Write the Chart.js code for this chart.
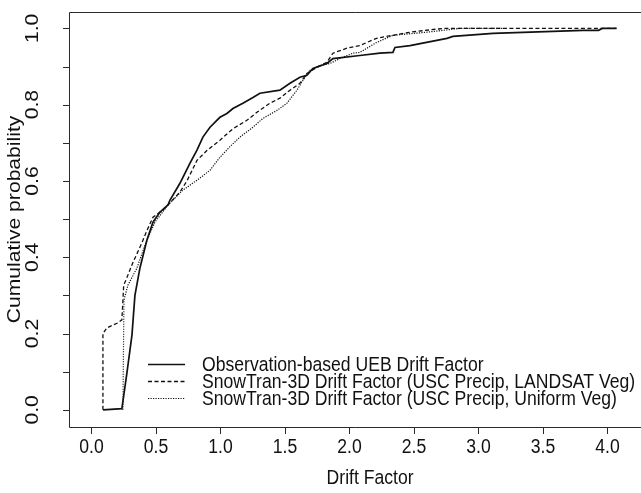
<!DOCTYPE html>
<html>
<head>
<meta charset="utf-8">
<script src="https://cdn.jsdelivr.net/npm/chart.js@4/dist/chart.umd.min.js"></script>
<style>
  html, body { margin: 0; padding: 0; background: #ffffff; }
  #wrap { width: 641px; height: 493px; }
</style>
</head>
<body>
<div id="wrap"><canvas id="c" width="641" height="493"></canvas></div>
<script>
// ---- data ----
const obsX = [0.09, 0.236, 0.275, 0.314, 0.337, 0.376, 0.43, 0.477, 0.53, 0.593, 0.609, 0.686, 0.764, 0.818, 0.864, 0.919, 0.996, 1.05, 1.097, 1.174, 1.252, 1.306, 1.461, 1.539, 1.616, 1.67, 1.717, 1.825, 1.872, 2.08, 2.236, 2.337, 2.353, 2.469, 2.756, 2.802, 3.112, 3.81, 3.93, 3.96, 4.07];
const obsY = [0, 0.003, 0.097, 0.196, 0.30, 0.372, 0.445, 0.492, 0.518, 0.537, 0.55, 0.594, 0.647, 0.681, 0.715, 0.741, 0.767, 0.777, 0.79, 0.804, 0.819, 0.83, 0.838, 0.856, 0.872, 0.877, 0.895, 0.908, 0.921, 0.929, 0.935, 0.937, 0.95, 0.955, 0.974, 0.979, 0.987, 0.995, 0.995, 1.0, 1.0];

const landsatX = [0.089, 0.089, 0.12, 0.205, 0.236, 0.25, 0.267, 0.32, 0.39, 0.43, 0.477, 0.554, 0.593, 0.686, 0.74, 0.818, 0.895, 0.996, 1.097, 1.205, 1.283, 1.384, 1.461, 1.539, 1.616, 1.67, 1.748, 1.825, 1.872, 1.98, 2.08, 2.21, 2.337, 2.469, 2.725, 4.07];
const landsatY = [0, 0.20, 0.215, 0.228, 0.236, 0.327, 0.34, 0.385, 0.437, 0.47, 0.505, 0.524, 0.537, 0.571, 0.60, 0.654, 0.68, 0.707, 0.737, 0.759, 0.78, 0.804, 0.817, 0.838, 0.856, 0.882, 0.898, 0.911, 0.935, 0.948, 0.955, 0.974, 0.982, 0.99, 1.0, 1.0];

const uniformX = [0.244, 0.252, 0.283, 0.353, 0.415, 0.492, 0.593, 0.709, 0.818, 0.919, 0.996, 1.074, 1.151, 1.252, 1.329, 1.438, 1.516, 1.593, 1.64, 1.694, 1.771, 1.849, 1.926, 2.027, 2.08, 2.21, 2.337, 2.6, 2.856, 3.19];
const uniformY = [0, 0.288, 0.327, 0.372, 0.432, 0.492, 0.537, 0.576, 0.602, 0.628, 0.662, 0.69, 0.715, 0.741, 0.764, 0.785, 0.804, 0.838, 0.864, 0.89, 0.903, 0.908, 0.921, 0.935, 0.937, 0.963, 0.982, 0.99, 1.0, 1.0];

const seriesNames = [
  "Observation-based UEB Drift Factor",
  "SnowTran-3D Drift Factor (USC Precip, LANDSAT Veg)",
  "SnowTran-3D Drift Factor (USC Precip, Uniform Veg)"
];
const xTickValues = [0.0, 0.5, 1.0, 1.5, 2.0, 2.5, 3.0, 3.5, 4.0];
const xTickLabels = ["0.0", "0.5", "1.0", "1.5", "2.0", "2.5", "3.0", "3.5", "4.0"];
const yTickValues = [0.0, 0.1, 0.2, 0.3, 0.4, 0.5, 0.6, 0.7, 0.8, 0.9, 1.0];
const yLabelValues = [0.0, 0.2, 0.4, 0.6, 0.8, 1.0];
const yLabelTexts = ["0.0", "0.2", "0.4", "0.6", "0.8", "1.0"];
const xTitle = "Drift Factor";
const yTitle = "Cumulative probability";

// ---- styles ----
const INK = '#111111';
const FONT = "17.6px 'Liberation Sans', Arial, Helvetica, sans-serif";
const VSTRETCH = 1.2;
const styles = [
  { width: 1.7, dash: [] },
  { width: 1.3, dash: [4, 2.5] },
  { width: 1.2, dash: [1.2, 1.3] }
];

function pts(xs, ys) { return xs.map((x, i) => ({ x: x, y: ys[i] })); }

// draws text at true pixel position (x, y); glyphs are stretched vertically on screen
function drawText(ctx, str, x, y, rot, align) {
  ctx.save();
  ctx.translate(x, y);
  ctx.scale(1, VSTRETCH);
  if (rot) ctx.rotate(rot);
  ctx.font = FONT;
  ctx.fillStyle = INK;
  ctx.textAlign = align || 'center';
  ctx.textBaseline = 'middle';
  ctx.fillText(str, 0, 0);
  ctx.restore();
}

const decor = {
  id: 'decor',
  afterDraw(chart) {
    const ctx = chart.ctx;
    const a = chart.chartArea;
    const xs = chart.scales.x, ys = chart.scales.y;
    ctx.save();
    // frame (left, top, bottom)
    ctx.strokeStyle = '#2a2a2a';
    ctx.lineWidth = 1;
    ctx.setLineDash([]);
    ctx.beginPath();
    ctx.moveTo(a.right + 1, Math.round(a.top) + 0.5);
    ctx.lineTo(Math.round(a.left) + 0.5, Math.round(a.top) + 0.5);
    ctx.lineTo(Math.round(a.left) + 0.5, Math.round(a.bottom) + 0.5);
    ctx.lineTo(a.right + 1, Math.round(a.bottom) + 0.5);
    ctx.stroke();
    // x ticks
    ctx.beginPath();
    xTickValues.forEach(v => {
      const px = Math.round(xs.getPixelForValue(v)) + 0.5;
      ctx.moveTo(px, Math.round(a.bottom) + 0.5);
      ctx.lineTo(px, Math.round(a.bottom) + 7);
    });
    // y ticks
    yTickValues.forEach(v => {
      const py = Math.round(ys.getPixelForValue(v)) + 0.5;
      ctx.moveTo(Math.round(a.left) + 0.5, py);
      ctx.lineTo(Math.round(a.left) - 6, py);
    });
    ctx.stroke();
    // x labels
    xTickValues.forEach((v, i) => {
      drawText(ctx, xTickLabels[i], xs.getPixelForValue(v), 447, 0);
    });
    // y labels (rotated like R)
    yLabelValues.forEach((v, i) => {
      drawText(ctx, yLabelTexts[i], 33, ys.getPixelForValue(v), -Math.PI / 2);
    });
    // titles
    drawText(ctx, xTitle, xs.getPixelForValue(2.16), 478, 0);
    drawText(ctx, yTitle, 15, (a.top + a.bottom) / 2, -Math.PI / 2);
    // legend
    const lx0 = 148, lx1 = 185, tx = 202;
    const rows = [364, 381, 398];
    rows.forEach((ry, i) => {
      ctx.strokeStyle = INK;
      ctx.lineWidth = styles[i].width;
      ctx.setLineDash(styles[i].dash);
      ctx.beginPath();
      ctx.moveTo(lx0, ry + 0.5);
      ctx.lineTo(lx1, ry + 0.5);
      ctx.stroke();
      ctx.setLineDash([]);
      drawText(ctx, seriesNames[i], tx, ry + 1, 0, 'left');
    });
    ctx.restore();
  }
};

new Chart(document.getElementById('c'), {
  type: 'scatter',
  data: {
    datasets: [
      { label: seriesNames[0], data: pts(obsX, obsY) },
      { label: seriesNames[1], data: pts(landsatX, landsatY) },
      { label: seriesNames[2], data: pts(uniformX, uniformY) }
    ].map((d, i) => Object.assign(d, {
      showLine: true,
      borderColor: INK,
      backgroundColor: INK,
      borderWidth: styles[i].width,
      borderDash: styles[i].dash,
      pointRadius: 0,
      tension: 0,
      fill: false
    }))
  },
  options: {
    responsive: false,
    devicePixelRatio: 1,
    animation: false,
    layout: { padding: { left: 69, right: 0, top: 12, bottom: 66 } },
    plugins: { legend: { display: false }, tooltip: { enabled: false } },
    scales: {
      x: { type: 'linear', min: -0.174, max: 4.26, display: false },
      y: { type: 'linear', min: -0.045, max: 1.043, display: false }
    }
  },
  plugins: [decor]
});
</script>
</body>
</html>
